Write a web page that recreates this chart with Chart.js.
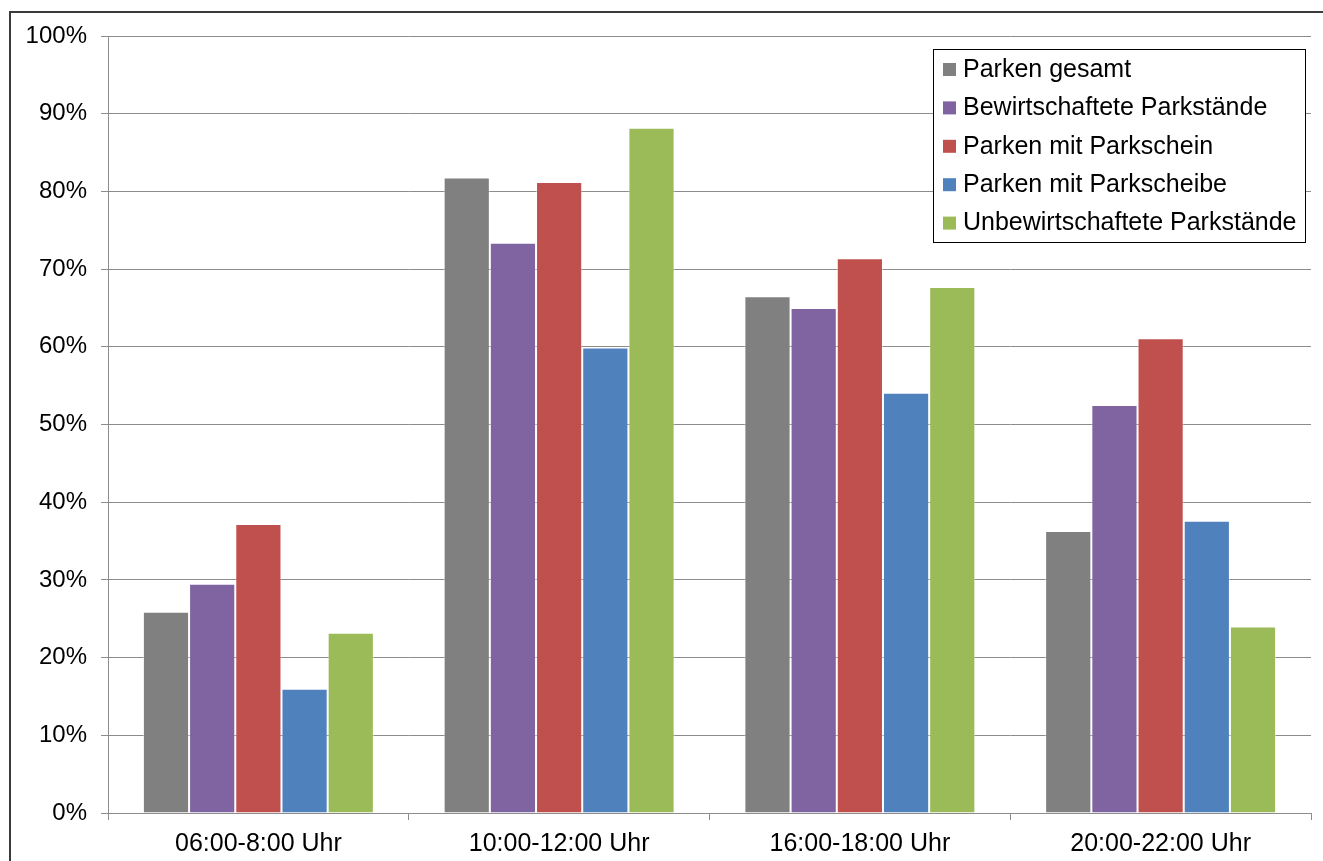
<!DOCTYPE html>
<html lang="de">
<head>
    <meta charset="UTF-8">
    <title>Auslastung Parkstände</title>
    <script src="https://cdn.jsdelivr.net/npm/chart.js"></script>
    <style>
        html, body { margin: 0; padding: 0; background: #fff; overflow: hidden; }
        #wrap { width: 1323px; height: 861px; position: relative; }
    </style>
</head>
<body>
    <div id="wrap"><canvas id="chart" width="1323" height="861"></canvas></div>

    <script>
        // Zeitfenster (x-Achse)
        const categories = ['06:00-8:00 Uhr', '10:00-12:00 Uhr', '16:00-18:00 Uhr', '20:00-22:00 Uhr'];

        // Auslastung in Prozent
        const parkenGesamt      = [25.9, 81.8, 66.5, 36.3];
        const bewirtschaftet    = [29.5, 73.4, 65.0, 52.5];
        const parkschein        = [37.2, 81.2, 71.4, 61.1];
        const parkscheibe       = [16.0, 59.9, 54.1, 37.6];
        const unbewirtschaftet  = [23.2, 88.2, 67.7, 24.0];

        const seriesNames  = ['Parken gesamt', 'Bewirtschaftete Parkstände', 'Parken mit Parkschein', 'Parken mit Parkscheibe', 'Unbewirtschaftete Parkstände'];
        const seriesColors = ['#808080', '#8064A2', '#C0504D', '#4F81BD', '#9BBB59'];
        const seriesValues = [parkenGesamt, bewirtschaftet, parkschein, parkscheibe, unbewirtschaftet];

        const FONT = "'Liberation Sans', Arial, Helvetica, sans-serif";

        // legend box inside the plot, top right
        const boxLegend = {
            id: 'boxLegend',
            afterDraw(chart) {
                const ctx = chart.ctx;
                const x = 933.5, y = 49.5, w = 372, h = 193;
                ctx.save();
                ctx.fillStyle = '#fff';
                ctx.fillRect(x, y, w, h);
                ctx.strokeStyle = '#000';
                ctx.lineWidth = 1;
                ctx.strokeRect(x, y, w, h);
                ctx.font = '25px ' + FONT;
                ctx.textBaseline = 'middle';
                chart.data.datasets.forEach((ds, i) => {
                    const cy = 69 + i * 38.4;
                    ctx.fillStyle = ds.backgroundColor;
                    ctx.fillRect(943, cy - 6, 13, 13);
                    ctx.fillStyle = '#000';
                    ctx.fillText(ds.label, 963, cy + 1);
                });
                ctx.restore();
            }
        };

        // outer frame of the chart object
        const frame = {
            id: 'frame',
            afterDraw(chart) {
                const ctx = chart.ctx;
                ctx.save();
                ctx.strokeStyle = '#3a3a3a';
                ctx.lineWidth = 2;
                ctx.strokeRect(10, 12, 1340, 880);
                ctx.restore();
            }
        };

        new Chart(document.getElementById('chart'), {
            type: 'bar',
            data: {
                labels: categories,
                datasets: seriesNames.map((name, i) => ({
                    label: name,
                    data: seriesValues[i],
                    backgroundColor: seriesColors[i],
                    borderColor: 'rgba(255,255,255,0.45)',
                    borderWidth: 1,
                    barPercentage: 1.0,
                    categoryPercentage: 0.768
                }))
            },
            options: {
                responsive: false,
                animation: false,
                devicePixelRatio: 1,
                layout: { padding: { top: 36, right: 12, bottom: 0, left: 0 } },
                plugins: {
                    legend: { display: false },
                    tooltip: { enabled: false }
                },
                scales: {
                    y: {
                        min: 0,
                        max: 100,
                        afterFit(scale) { scale.width = 108; },
                        ticks: {
                            stepSize: 10,
                            padding: 14,
                            color: '#000',
                            font: { family: FONT, size: 24 },
                            callback: v => v + '%'
                        },
                        grid: { color: '#8c8c8c', lineWidth: 1, tickLength: 7 },
                        border: { color: '#8c8c8c', width: 1 }
                    },
                    x: {
                        afterFit(scale) { scale.height = 48; },
                        ticks: {
                            padding: 9,
                            color: '#000',
                            font: { family: FONT, size: 25 },
                            maxRotation: 0
                        },
                        grid: { drawOnChartArea: false, color: '#8c8c8c', tickLength: 7, offset: true },
                        border: { color: '#8c8c8c', width: 1 }
                    }
                }
            },
            plugins: [boxLegend, frame]
        });
    </script>
</body>
</html>
